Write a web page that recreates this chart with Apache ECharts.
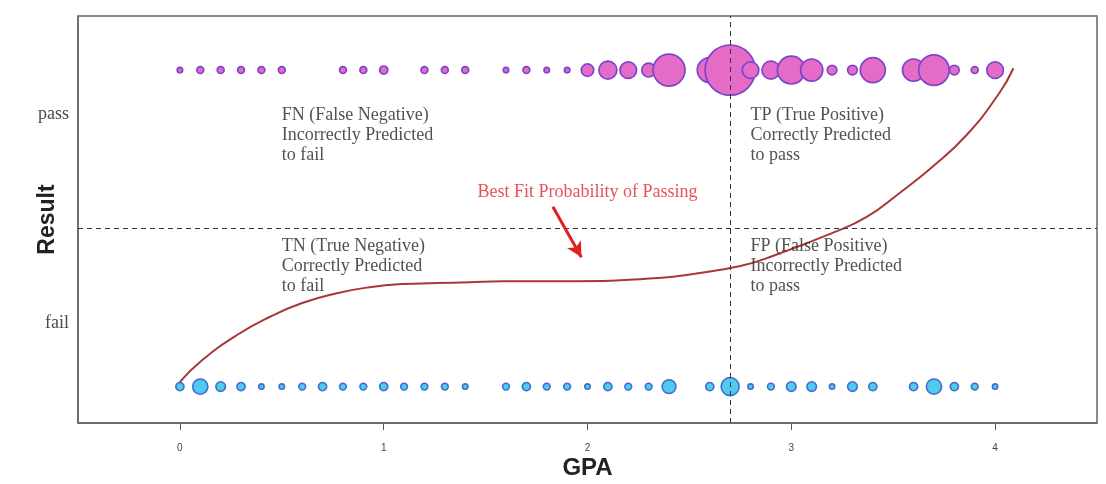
<!DOCTYPE html>
<html>
<head>
<meta charset="utf-8">
<script src="https://cdn.jsdelivr.net/npm/echarts@6/dist/echarts.min.js"></script>
<style>
  html, body { margin: 0; padding: 0; background: #ffffff; }
  #chart { width: 1106px; height: 484px; }
</style>
</head>
<body>
<div id="chart"></div>
<script>
// GPA bins and how many students in each bin passed / failed
const passGpa    = [0.0, 0.1, 0.2, 0.3, 0.4, 0.5, 0.8, 0.9, 1.0, 1.2, 1.3, 1.4, 1.6, 1.7, 1.8, 1.9,
                    2.0, 2.1, 2.2, 2.3, 2.4, 2.6, 2.7, 2.8, 2.9, 3.0, 3.1, 3.2, 3.3, 3.4, 3.6, 3.7, 3.8, 3.9, 4.0];
const passCounts = [1, 2, 2, 2, 2, 2, 2, 2, 3, 2, 2, 2, 1, 2, 1, 1,
                    6, 10, 9, 7, 20, 15, 33, 9, 10, 17, 13, 4, 4, 15, 13, 19, 4, 2, 9];

const failGpa    = [0.0, 0.1, 0.2, 0.3, 0.4, 0.5, 0.6, 0.7, 0.8, 0.9, 1.0, 1.1, 1.2, 1.3, 1.4,
                    1.6, 1.7, 1.8, 1.9, 2.0, 2.1, 2.2, 2.3, 2.4, 2.6, 2.7, 2.8, 2.9, 3.0, 3.1, 3.2, 3.3, 3.4,
                    3.6, 3.7, 3.8, 3.9, 4.0];
const failCounts = [3, 8, 4, 3, 1, 1, 2, 3, 2, 2, 3, 2, 2, 2, 1,
                    2, 3, 2, 2, 1, 3, 2, 2, 7, 3, 10, 1, 2, 4, 4, 1, 4, 3,
                    3, 8, 3, 2, 1];

// Fitted probability of passing as a function of GPA
const fitGpa  = [0.0, 0.11, 0.28, 0.44, 0.60, 0.77, 0.93, 1.09, 1.26, 1.42, 1.58, 1.75, 1.91,
                 2.35, 2.55, 2.75, 2.88, 3.2, 3.37, 3.53, 3.69, 3.86, 4.02, 4.09];
const fitProb = [0.015, 0.084, 0.163, 0.220, 0.264, 0.295, 0.314, 0.324, 0.327, 0.330, 0.333, 0.333, 0.333,
                 0.343, 0.359, 0.381, 0.406, 0.485, 0.536, 0.611, 0.693, 0.795, 0.927, 1.006];

// Outcome rows and decision thresholds
const passRow = 1;
const failRow = 0;
const gpaCutoff = 2.7;
const probCutoff = 0.5;

// Axis ticks and labels
const xTicks = [0, 1, 2, 3, 4];
const yLabelValues = [0.2, 0.86];
const yLabelNames = ['fail', 'pass'];

// Quadrant notes: [gpa, prob, text]
const notes = [
  [0.5, 0.889, 'FN (False Negative)\nIncorrectly Predicted\nto fail'],
  [2.8, 0.889, 'TP (True Positive)\nCorrectly Predicted\nto pass'],
  [0.5, 0.4755, 'TN (True Negative)\nCorrectly Predicted\nto fail'],
  [2.8, 0.4755, 'FP (False Positive)\nIncorrectly Predicted\nto pass']
];
const curveNote = [2.0, 0.6145, 'Best Fit Probability of Passing'];
const arrowFrom = [1.83, 0.568];
const arrowTo = [1.97, 0.409];

const bubbleRadius = n => 2 + 0.7 * n;

const chart = echarts.init(document.getElementById('chart'), null, { renderer: 'canvas' });

const serif = '"Liberation Serif", "Times New Roman", serif';
const sans = '"Liberation Sans", Arial, Helvetica, sans-serif';

chart.setOption({
  animation: false,
  backgroundColor: '#ffffff',
  grid: {
    left: 78, right: 9, top: 16, bottom: 61,
    outerBoundsMode: 'none', containLabel: false,
    show: true, borderColor: '#666', borderWidth: 1.5, backgroundColor: 'transparent'
  },
  xAxis: {
    type: 'value', min: -0.5, max: 4.5,
    name: 'GPA', nameLocation: 'middle', nameGap: 33, nameMoveOverlap: false,
    nameTextStyle: { fontFamily: sans, fontWeight: 'bold', fontSize: 24, color: '#222' },
    axisLine: { show: true, onZero: false, lineStyle: { color: '#666', width: 1.5 } },
    axisTick: { show: true, length: 7, customValues: xTicks, lineStyle: { color: '#555' } },
    axisLabel: { customValues: xTicks, margin: 20, fontFamily: sans, fontSize: 10, color: '#444' },
    splitLine: { show: false }
  },
  yAxis: {
    type: 'value', min: -0.115, max: 1.171,
    name: 'Result', nameLocation: 'middle', nameGap: 19, nameRotate: 90, nameMoveOverlap: false,
    nameTextStyle: { fontFamily: sans, fontWeight: 'bold', fontSize: 23, color: '#222' },
    axisLine: { show: true, onZero: false, lineStyle: { color: '#666', width: 1.5 } },
    axisTick: { show: false },
    axisLabel: {
      customValues: yLabelValues, margin: 9, fontFamily: serif, fontSize: 18, color: '#4a4a4a',
      formatter: v => yLabelNames[yLabelValues.indexOf(v)]
    },
    splitLine: { show: false }
  },
  series: [
    {
      name: 'fail', type: 'scatter', z: 3,
      data: failGpa.map((g, i) => [g, failRow, failCounts[i]]),
      symbolSize: v => 2 * bubbleRadius(v[2]),
      itemStyle: { color: '#52c9ef', borderColor: '#3f6fcc', borderWidth: 1.6, opacity: 1 }
    },
    {
      name: 'pass', type: 'scatter', z: 3,
      data: passGpa.map((g, i) => [g, passRow, passCounts[i]]),
      symbolSize: v => 2 * bubbleRadius(v[2]),
      itemStyle: { color: '#e56cc6', borderColor: '#7c44cc', borderWidth: 1.7, opacity: 1 }
    },
    {
      name: 'fit', type: 'line', z: 4, smooth: true, showSymbol: false, symbol: 'none',
      data: fitGpa.map((g, i) => [g, fitProb[i]]),
      lineStyle: { color: '#a83838', width: 2 },
      markLine: {
        silent: true, symbol: 'none', animation: false,
        label: { show: false },
        lineStyle: { color: '#333', width: 1, type: [5, 4] },
        data: [{ xAxis: gpaCutoff }, { yAxis: probCutoff }]
      }
    },
    {
      name: 'notes', type: 'scatter', z: 5, symbolSize: 0, silent: true,
      data: notes.map(n => ({ name: n[2], value: [n[0], n[1]] })),
      label: {
        show: true, position: [0, 0], align: 'left', verticalAlign: 'top',
        formatter: '{b}', fontFamily: serif, fontSize: 18, lineHeight: 20, color: '#262626'
      },
      markLine: {
        silent: true, animation: false,
        symbol: ['none', 'arrow'], symbolSize: [12, 15],
        label: { show: false },
        lineStyle: { color: '#e02020', width: 3, type: 'solid' },
        data: [[{ coord: arrowFrom }, { coord: arrowTo }]]
      }
    },
    {
      name: 'curveNote', type: 'scatter', z: 5, symbolSize: 0, silent: true,
      data: [{ name: curveNote[2], value: [curveNote[0], curveNote[1]] }],
      label: {
        show: true, position: [0, 0], align: 'center', verticalAlign: 'middle',
        formatter: '{b}', fontFamily: serif, fontSize: 18, color: '#e2262b'
      }
    }
  ]
});
</script>
</body>
</html>
